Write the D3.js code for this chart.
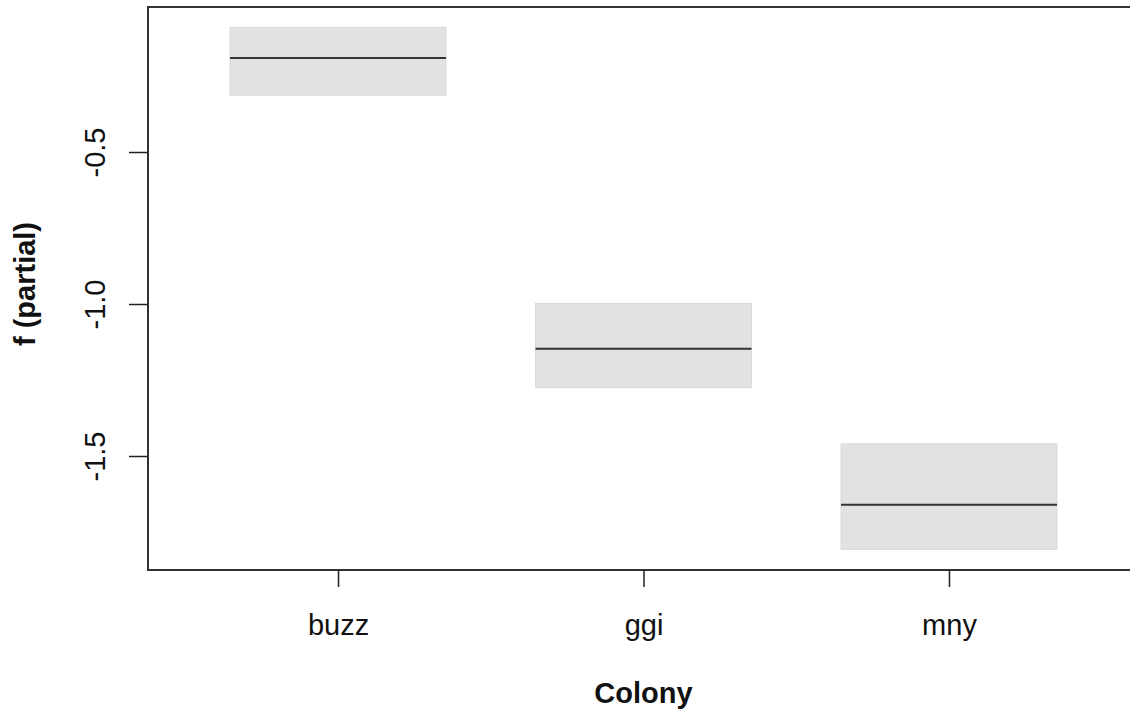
<!DOCTYPE html>
<html>
<head>
<meta charset="utf-8">
<script src="https://cdn.jsdelivr.net/npm/d3@7"></script>
<style>
  html, body { margin: 0; padding: 0; background: #fff; }
  svg { display: block; }
  text { font-family: "Liberation Sans", Arial, sans-serif; fill: #111; }
</style>
</head>
<body>
<svg id="chart" width="1130" height="715"></svg>
<script>
// Partial effect of colony: fitted value with confidence band
const colonies = ["buzz", "ggi", "mny"];
const fitValues = [-0.191, -1.147, -1.660];
const upperValues = [-0.090, -0.998, -1.460];
const lowerValues = [-0.313, -1.275, -1.807];
const yTickValues = [-0.5, -1.0, -1.5];
const yTickLabels = ["-0.5", "-1.0", "-1.5"];

const width = 1130, height = 715;
const plot = { left: 148, top: 7, right: 1139, bottom: 570 };

const svg = d3.select("#chart");

// Categories sit at positions 1..n on a continuous axis
const x = d3.scaleLinear()
  .domain([0.378, colonies.length + 0.622])
  .range([plot.left, plot.right]);

const y = d3.scaleLinear()
  .domain([-0.023, -1.875])
  .range([plot.top, plot.bottom]);

const halfWidth = 0.3535;

const bands = svg.append("g");
colonies.forEach((c, i) => {
  const pos = i + 1;
  bands.append("rect")
    .attr("x", x(pos - halfWidth))
    .attr("y", y(upperValues[i]))
    .attr("width", x(pos + halfWidth) - x(pos - halfWidth))
    .attr("height", y(lowerValues[i]) - y(upperValues[i]))
    .attr("fill", "#e2e2e2")
    .attr("stroke", "#d9d9d9")
    .attr("stroke-width", 1);
  bands.append("line")
    .attr("x1", x(pos - halfWidth))
    .attr("x2", x(pos + halfWidth))
    .attr("y1", y(fitValues[i]))
    .attr("y2", y(fitValues[i]))
    .attr("stroke", "#333")
    .attr("stroke-width", 2);
});

// Plot frame (right side falls outside the canvas)
svg.append("rect")
  .attr("x", plot.left)
  .attr("y", plot.top)
  .attr("width", plot.right - plot.left)
  .attr("height", plot.bottom - plot.top)
  .attr("fill", "none")
  .attr("stroke", "#333")
  .attr("stroke-width", 2);

// X axis
const xAxis = d3.axisBottom(x)
  .tickValues(colonies.map((c, i) => i + 1))
  .tickFormat((d) => colonies[d - 1])
  .tickSize(17)
  .tickSizeOuter(0)
  .tickPadding(27);
const gx = svg.append("g")
  .attr("transform", `translate(0,${plot.bottom})`)
  .call(xAxis);
gx.select(".domain").remove();
gx.selectAll(".tick line").attr("stroke", "#222").attr("stroke-width", 1.5);
gx.selectAll(".tick text")
  .attr("font-size", 29)
  .attr("font-family", "Liberation Sans, Arial, sans-serif")
  .attr("fill", "#111");

// Y axis with rotated labels
const yAxis = d3.axisLeft(y)
  .tickValues(yTickValues)
  .tickFormat((d, i) => yTickLabels[i])
  .tickSize(19)
  .tickSizeOuter(0);
const gy = svg.append("g")
  .attr("transform", `translate(${plot.left},0)`)
  .call(yAxis);
gy.select(".domain").remove();
gy.selectAll(".tick line").attr("stroke", "#222").attr("stroke-width", 1.5);
gy.selectAll(".tick text")
  .attr("font-size", 29)
  .attr("font-family", "Liberation Sans, Arial, sans-serif")
  .attr("fill", "#111")
  .attr("x", null)
  .attr("dy", null)
  .attr("text-anchor", "middle")
  .attr("transform", "translate(-43,0) rotate(-90)");

// Axis titles
svg.append("text")
  .attr("x", (plot.left + 1139) / 2)
  .attr("y", 703)
  .attr("text-anchor", "middle")
  .attr("font-size", 29)
  .attr("font-weight", "bold")
  .text("Colony");

svg.append("text")
  .attr("transform", `translate(35,284) rotate(-90)`)
  .attr("text-anchor", "middle")
  .attr("font-size", 29)
  .attr("font-weight", "bold")
  .text("f (partial)");
</script>
</body>
</html>
